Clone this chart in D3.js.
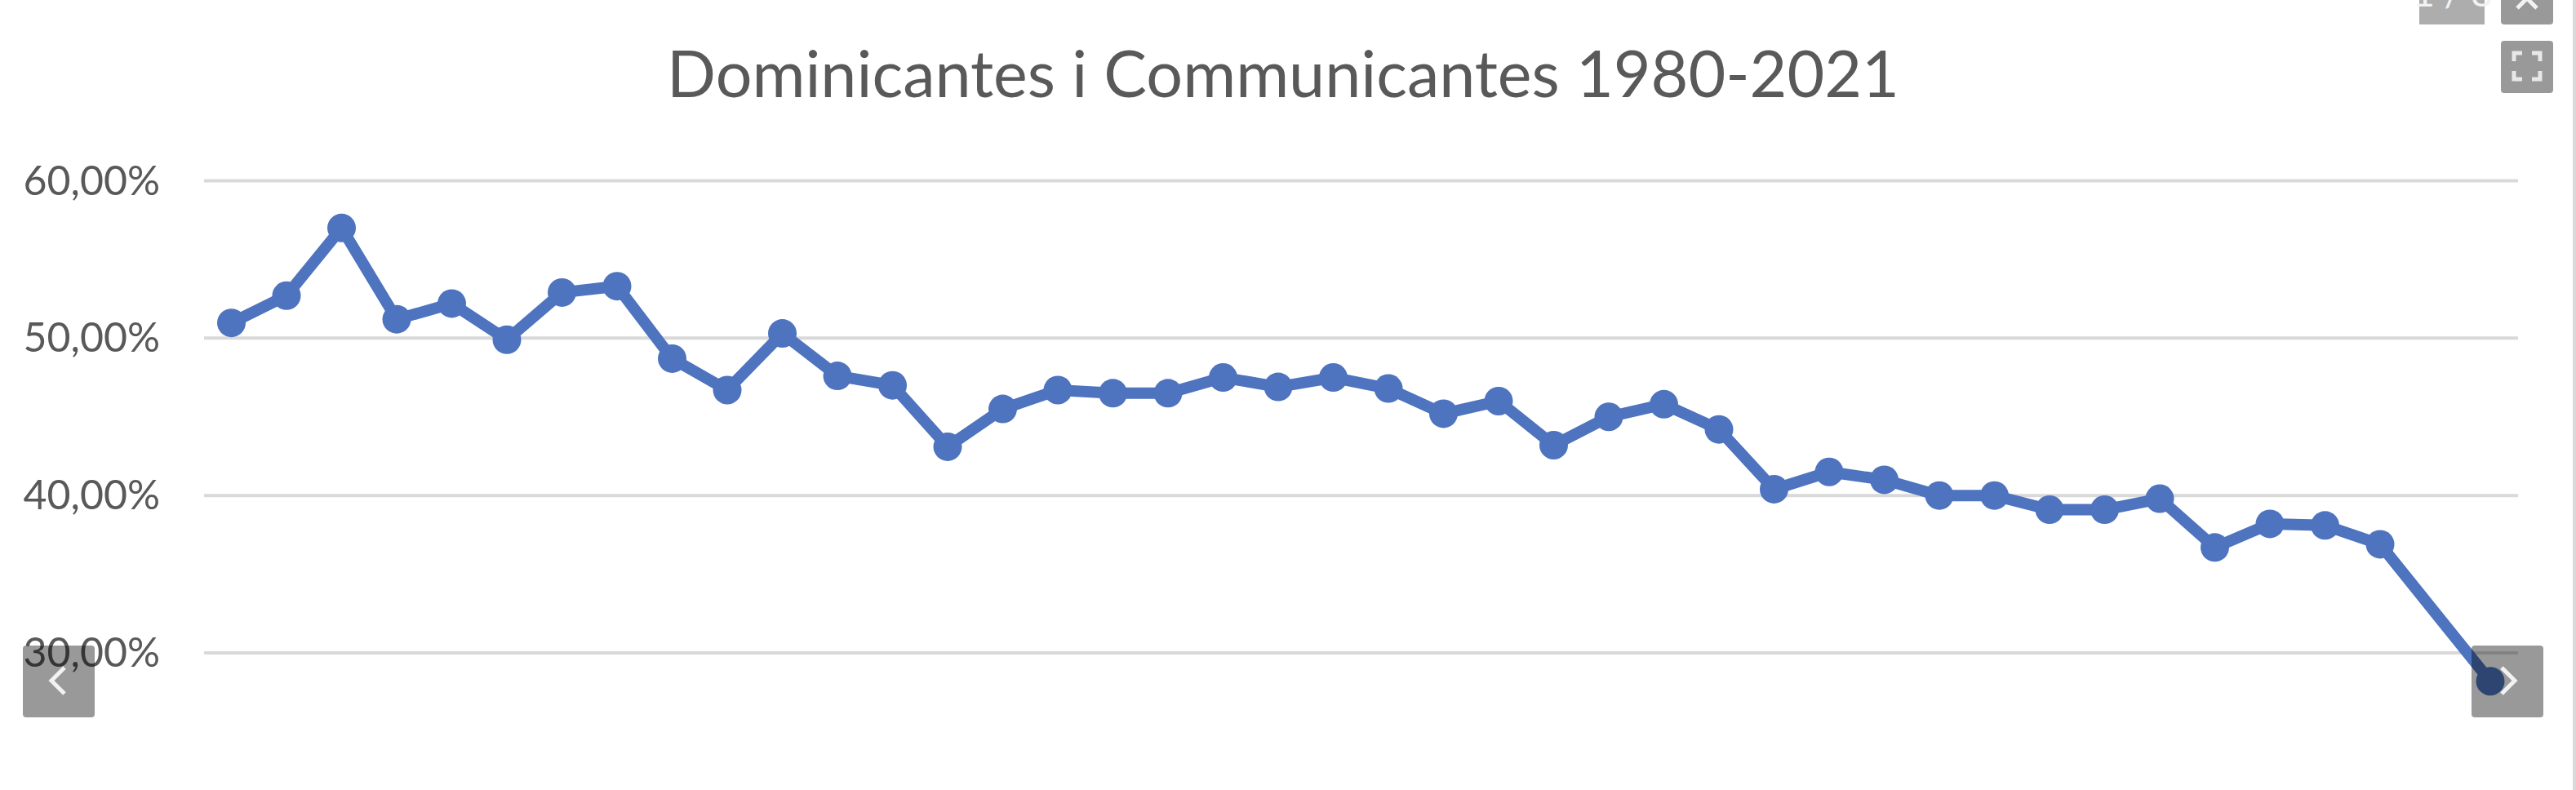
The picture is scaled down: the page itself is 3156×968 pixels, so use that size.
<!DOCTYPE html>
<html><head><meta charset="utf-8">
<script src="https://cdn.jsdelivr.net/npm/d3@7"></script>
<style>html,body{margin:0;padding:0;background:#fff;overflow:hidden}svg{display:block}text{font-family:Lato,"Open Sans",sans-serif}</style>
</head><body><svg id="c" width="3156" height="968"></svg>
<script>
const years = d3.range(1980, 2022);
const values = [50.97,52.7,57,51.2,52.2,49.9,52.9,53.3,48.7,46.7,50.3,47.6,47,43.1,45.5,46.7,46.5,46.5,47.5,46.9,47.5,46.8,45.2,46,43.2,45,45.8,44.2,40.4,41.5,41,40,40,39.1,39.1,39.8,36.7,38.2,38.1,36.9,null,28.2];
const tickValues = [30,40,50,60];
const titleText = "Dominicantes i Communicantes 1980-2021";
const pager = "1 / 8";

const svg = d3.select("#c");
const x = d3.scalePoint().domain(years).range([283.5,3051]);
const y = d3.scaleLinear().domain([30,60]).range([800,221.5]);
const fmt = v => v.toFixed(2).replace(".",",")+"%";

svg.append("rect").attr("x",3152).attr("y",0).attr("width",4).attr("height",968).attr("fill","#d9d9d9");
svg.append("text").attr("x",1572).attr("y",119).attr("text-anchor","middle").attr("font-size",79).attr("fill","#595959").text(titleText);

const yAxis = d3.axisLeft(y).tickValues(tickValues).tickSize(0).tickFormat(fmt);
const ag = svg.append("g").attr("transform","translate(250,0)").call(yAxis);
ag.select(".domain").remove();
ag.selectAll("text").attr("x",-54).attr("dy","0.33em").attr("font-size",50).attr("fill","#595959").style("font-family","Lato");

svg.append("g").selectAll("line").data(tickValues).join("line")
  .attr("x1",250).attr("x2",3085).attr("y1",d=>y(d)).attr("y2",d=>y(d))
  .attr("stroke","#d9d9d9").attr("stroke-width",4);

const pts = years.map((yr,i)=>({yr,v:values[i]})).filter(d=>d.v!==null);
const line = d3.line().x(d=>x(d.yr)).y(d=>y(d.v));
svg.append("path").datum(pts).attr("d",line).attr("fill","none").attr("stroke","#4e73bf").attr("stroke-width",14).attr("stroke-linejoin","round");
svg.append("g").selectAll("circle").data(pts).join("circle")
  .attr("cx",d=>x(d.yr)).attr("cy",d=>y(d.v)).attr("r",17.5).attr("fill","#4e73bf");

function btn(bx,by,w,h,fill,op,r){svg.append("rect").attr("x",bx).attr("y",by).attr("width",w).attr("height",h).attr("rx",r).attr("fill",fill).attr("fill-opacity",op);}
// nav overlay
btn(28,791,88,88,"#000",0.4,4);
btn(3028,791,88,88,"#000",0.4,4);
svg.append("path").attr("d","M79,818L63,834L79,850").attr("fill","none").attr("stroke","#f2f2f2").attr("stroke-width",5);
svg.append("path").attr("d","M3065,818L3081,834L3065,850").attr("fill","none").attr("stroke","#f2f2f2").attr("stroke-width",5);
btn(2964,-30,80,60,"#000",0.32,0);
svg.append("text").attr("x",3005).attr("y",8).attr("text-anchor","middle").attr("font-size",46).attr("fill","#f2f2f2").text(pager);
btn(3064,-34,64,64,"#000",0.4,4);
svg.append("path").attr("d","M3084,10L3096,-2L3108,10").attr("fill","none").attr("stroke","#f2f2f2").attr("stroke-width",5);
btn(3064,50,64,64,"#000",0.4,4);
svg.append("path").attr("d","M3080,75V65H3090M3102,65H3112V75M3112,87V97H3102M3090,97H3080V87").attr("fill","none").attr("stroke","#e8e8e8").attr("stroke-width",5);
</script></body></html>
